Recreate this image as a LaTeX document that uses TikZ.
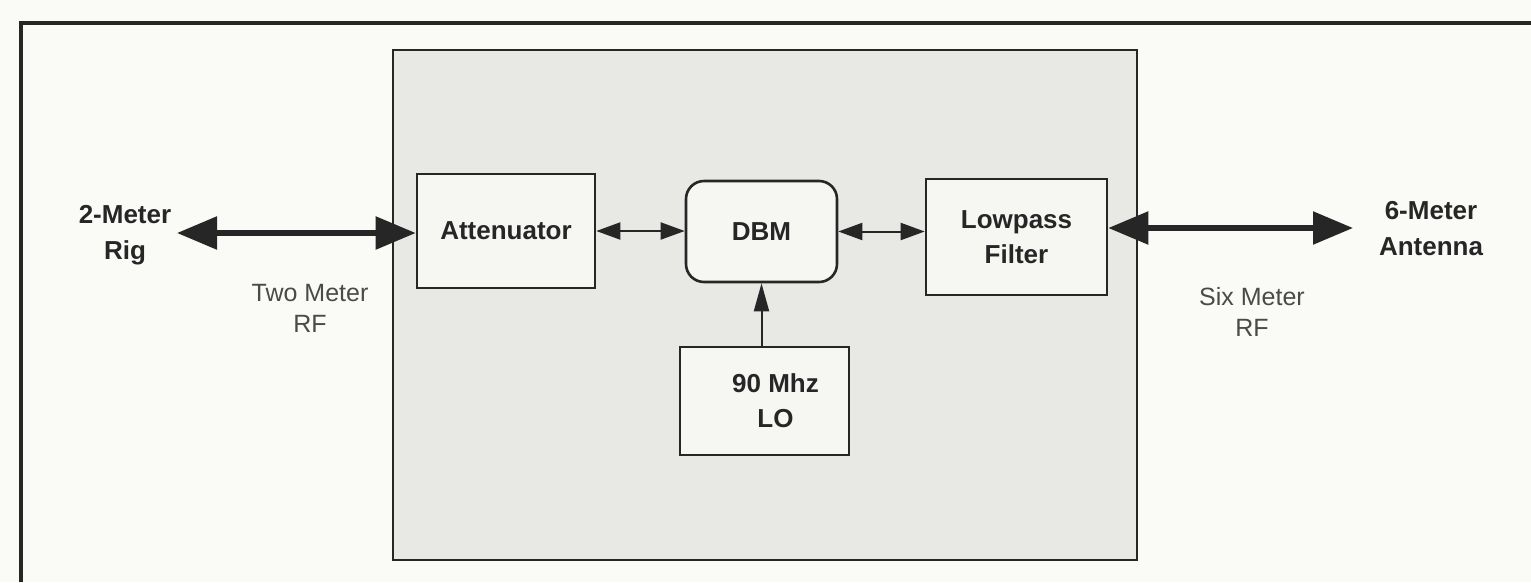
\documentclass[tikz,border=0pt]{standalone}
\usepackage{fontspec}
\setmainfont{Liberation Sans}
\usetikzlibrary{arrows.meta,calc}
\definecolor{bgc}{HTML}{FAFAF6}
\definecolor{innerc}{HTML}{E8E8E5}
\definecolor{blockc}{HTML}{F6F6F3}
\definecolor{inkc}{HTML}{262626}
\definecolor{softc}{HTML}{4A4A4A}
\tikzset{
  blockbox/.style={draw=inkc, line width=2.6pt, fill=blockc, align=center,
    font=\fontsize{26}{35}\selectfont\bfseries, text=inkc, inner sep=0pt},
  endlabel/.style={align=center, font=\fontsize{26}{36}\selectfont\bfseries, text=inkc},
  rflabel/.style={align=center, font=\fontsize{25}{31}\selectfont, text=softc},
  thick arrow/.style={draw=inkc, line width=5.5pt,
    {Triangle[length=40pt,width=32pt]}-{Triangle[length=40pt,width=32pt]}},
  thin arrow/.style={draw=inkc, line width=2pt,
    {Triangle[length=24pt,width=17pt]}-{Triangle[length=24pt,width=17pt]}},
  one arrow/.style={draw=inkc, line width=2pt, -{Triangle[length=28pt,width=15pt]}},
}
\begin{document}
\begin{tikzpicture}[x=1pt,y=-1pt]
\useasboundingbox (0,0) rectangle (1531,582);
\fill[bgc] (0,0) rectangle (1531,582);
% outer frame (top and left edges only visible)
\draw[inkc, line width=3.5pt] (21,582) -- (21,23) -- (1531,23);
% inner box
\draw[inkc, line width=2.6pt, fill=innerc] (393,50) rectangle (1137,560);
% blocks
\node[blockbox, minimum width=178pt, minimum height=114pt] (att) at (506,231) {Attenuator};
\node[blockbox, minimum width=151pt, minimum height=101pt, rounded corners=18pt] (dbm) at (761.5,231.5) {DBM};
\node[blockbox, minimum width=169pt, minimum height=108pt] (lo) at (764.5,401) {\hspace*{22pt}90 Mhz\\\hspace*{22pt}LO};
\node[blockbox, minimum width=181pt, minimum height=116pt] (lpf) at (1016.5,237) {Lowpass\\Filter};
% end labels
\node[endlabel] (rig) at (125,235) {2-Meter\\Rig};
\node[endlabel] (ant) at (1431,229) {6-Meter\\Antenna};
\node[rflabel] (tworf) at (310,308) {Two Meter\\RF};
\node[rflabel] (sixrf) at (1252,312) {Six Meter\\RF};
% connector end points
\coordinate (rigend) at (177,233);
\coordinate (antend) at (1353,228);
% connectors
\draw[thick arrow] (rigend) -- (rigend -| att.west);
\draw[thin arrow] (att.east) -- (att.east -| dbm.west);
\draw[thin arrow] (dbm.east) -- (dbm.east -| lpf.west);
\draw[thick arrow] (antend -| lpf.east) -- (antend);
\draw[one arrow] (lo.north -| dbm.south) -- (dbm.south);
\end{tikzpicture}
\end{document}
